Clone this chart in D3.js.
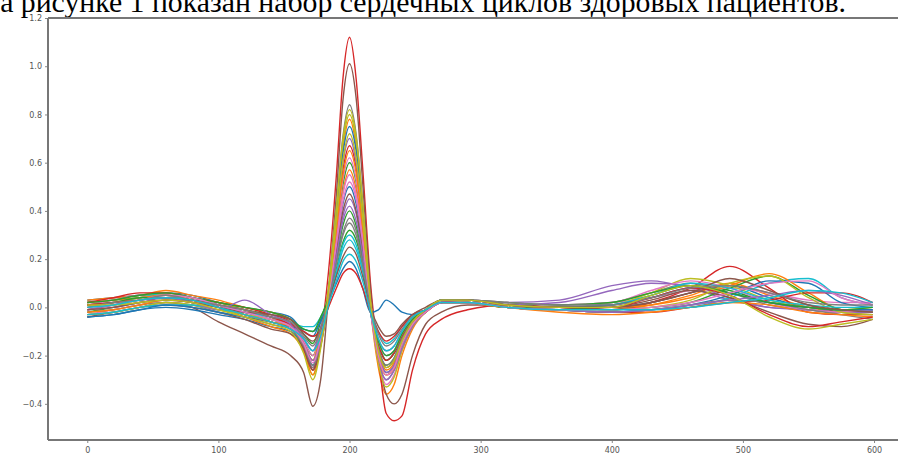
<!DOCTYPE html>
<html><head><meta charset="utf-8">
<script src="https://cdn.jsdelivr.net/npm/d3@7"></script>
<style>html,body{margin:0;padding:0;background:#fff;overflow:hidden}</style>
</head><body>
<svg id="chart" width="898" height="458"></svg>
<script>
const caption = "На рисунке 1 показан набор сердечных циклов здоровых пациентов.";
const xKnots = [0,20,40,60,80,100,120,140,155,165,172,178,184,190,195,200,205,210,216,222,228,234,240,248,258,270,290,320,360,400,430,460,490,520,550,575,599];
const xTicks = [0,100,200,300,400,500,600];
const yTicks = [-0.4,-0.2,0.0,0.2,0.4,0.6,0.8,1.0,1.2];
const palette = ["#1f77b4","#ff7f0e","#2ca02c","#d62728","#9467bd","#8c564b","#e377c2","#7f7f7f","#bcbd22","#17becf"];

const beat01 = [-0.01,0.01,0.03,0.04,0.03,0.0,-0.03,-0.06,-0.09, -0.15,-0.26,-0.12,0.15,0.55,0.95,1.12,0.95,0.58,0.10,-0.20,-0.44,-0.47,-0.45,-0.26,-0.11,-0.05, -0.01,0.01,0.0,-0.01,0.02,0.08,0.17,0.08,-0.02,-0.03,-0.03];
const beat02 = [-0.03,-0.02,0.0,0.02,0.0,-0.06,-0.11,-0.16,-0.2, -0.27,-0.41,-0.30,0.05,0.47,0.86,1.01,0.87,0.52,0.07,-0.2,-0.36,-0.40,-0.36,-0.2,-0.07,-0.02, 0.01,0.01,0.0,-0.01,0.02,0.06,0.09,0.06,0.01,-0.02,-0.03];
const beat03 = [0.02,0.03,0.05,0.05,0.03,0.01,-0.02,-0.04,-0.07, -0.16,-0.25,-0.12,0.08,0.42,0.71,0.84,0.72,0.44,0.03,-0.21,-0.30,-0.26,-0.17,-0.08,-0.02,0.03, 0.03,0.01,0.0,0.02,0.06,0.10,0.06,0.01,-0.01,-0.02,-0.02];
const beat04 = [-0.03,-0.02,0.0,0.02,0.01,-0.01,-0.03,-0.05,-0.08, -0.15,-0.22,-0.10,0.08,0.41,0.70,0.82,0.71,0.43,0.03,-0.20,-0.28,-0.25,-0.15,-0.07,-0.02,0.03, 0.02,0.0,-0.01,-0.01,0.0,0.03,0.10,0.13,0.04,-0.02,-0.03];
const beat05 = [0.0,0.02,0.04,0.06,0.04,0.02,-0.01,-0.04,-0.08, -0.18,-0.28,-0.15,0.07,0.40,0.68,0.80,0.69,0.42,0.01,-0.23,-0.33,-0.29,-0.18,-0.08,-0.02,0.02, 0.03,0.01,0.0,0.01,0.06,0.12,0.09,0.03,0.0,-0.01,0.0];
const beat06 = [0.03,0.04,0.05,0.07,0.05,0.03,0.0,-0.02,-0.05, -0.14,-0.20,-0.09,0.07,0.39,0.66,0.78,0.67,0.41,0.0,-0.25,-0.36,-0.32,-0.20,-0.09,-0.02,0.02, 0.02,0.0,0.0,-0.01,0.01,0.05,0.10,0.05,0.0,-0.02,-0.02];
const beat07 = [-0.04,-0.03,-0.01,0.0,-0.01,-0.03,-0.05,-0.08,-0.10, -0.16,-0.24,-0.12,0.07,0.38,0.64,0.75,0.65,0.39,0.02,-0.19,-0.27,-0.24,-0.15,-0.07,-0.02,0.03, 0.02,0.0,-0.01,-0.02,-0.01,0.01,0.05,0.11,0.10,0.02,0.0];
const beat08 = [0.01,0.01,0.02,0.03,0.02,-0.01,-0.04,-0.07,-0.10, -0.19,-0.30,-0.17,0.06,0.36,0.61,0.72,0.62,0.37,0.02,-0.18,-0.25,-0.22,-0.14,-0.06,-0.01,0.03, 0.03,0.01,0.0,0.0,0.05,0.09,0.05,-0.04,-0.09,-0.07,-0.05];
const beat09 = [-0.01,0.0,0.02,0.04,0.03,0.0,-0.02,-0.05,-0.07, -0.13,-0.18,-0.08,0.07,0.35,0.60,0.70,0.60,0.36,0.01,-0.21,-0.30,-0.26,-0.17,-0.08,-0.02,0.02, 0.03,0.01,0.02,0.07,0.10,0.09,0.04,0.0,-0.01,-0.02,-0.02];
const beat10 = [0.02,0.04,0.06,0.06,0.04,0.02,0.0,-0.03,-0.06, -0.17,-0.26,-0.14,0.05,0.34,0.57,0.67,0.58,0.35,0.03,-0.15,-0.22,-0.19,-0.12,-0.05,-0.01,0.03, 0.02,0.0,-0.01,-0.02,-0.02,0.0,0.02,0.03,0.06,0.06,0.02];
const beat11 = [-0.02,-0.01,0.01,0.03,0.02,0.0,-0.03,-0.06,-0.08, -0.15,-0.22,-0.11,0.06,0.33,0.55,0.65,0.56,0.34,0.01,-0.20,-0.28,-0.25,-0.15,-0.07,-0.02,0.02, 0.02,0.0,-0.02,-0.03,-0.02,0.0,0.02,0.01,-0.02,-0.03,-0.04];
const beat12 = [0.01,0.03,0.05,0.05,0.03,0.0,-0.03,-0.05,-0.07, -0.16,-0.25,-0.14,0.05,0.31,0.53,0.62,0.53,0.32,-0.01,-0.22,-0.32,-0.28,-0.18,-0.08,-0.02,0.02, 0.03,0.02,0.01,0.02,0.04,0.07,0.08,0.06,0.03,0.02,0.02];
const beat13 = [-0.02,0.0,0.02,0.03,0.03,0.01,-0.01,-0.03,-0.05, -0.11,-0.15,-0.06,0.06,0.30,0.51,0.60,0.52,0.31,0.01,-0.17,-0.24,-0.21,-0.13,-0.06,-0.01,0.03, 0.03,0.01,0.0,0.01,0.05,0.09,0.07,0.02,0.0,-0.01,-0.01];
const beat14 = [0.02,0.03,0.04,0.05,0.03,0.0,-0.04,-0.08,-0.11, -0.18,-0.28,-0.16,0.04,0.29,0.48,0.57,0.49,0.30,0.0,-0.18,-0.26,-0.23,-0.14,-0.06,-0.02,0.02, 0.02,0.0,0.0,0.0,0.01,0.04,0.09,0.14,0.06,-0.01,-0.02];
const beat15 = [-0.03,-0.01,0.01,0.03,0.02,0.0,-0.02,-0.04,-0.07, -0.14,-0.20,-0.11,0.05,0.28,0.47,0.55,0.47,0.29,0.02,-0.14,-0.20,-0.18,-0.11,-0.05,-0.01,0.03, 0.03,0.02,0.01,0.02,0.07,0.11,0.08,0.02,-0.01,-0.02,-0.01];
const beat16 = [0.0,0.01,0.03,0.05,0.04,0.01,-0.02,-0.05,-0.08, -0.15,-0.23,-0.13,0.04,0.26,0.44,0.52,0.45,0.27,-0.01,-0.20,-0.28,-0.25,-0.15,-0.07,-0.02,0.02, 0.02,0.0,-0.01,-0.01,0.0,0.02,0.06,0.10,0.11,0.04,0.01];
const beat17 = [0.03,0.04,0.05,0.06,0.05,0.02,0.0,-0.02,-0.04, -0.10,-0.12,-0.05,0.05,0.25,0.43,0.50,0.43,0.26,0.0,-0.15,-0.22,-0.19,-0.12,-0.05,-0.01,0.03, 0.03,0.01,0.0,0.0,0.02,0.06,0.09,0.04,0.0,-0.01,-0.01];
const beat18 = [-0.04,-0.02,0.0,0.01,0.0,-0.02,-0.05,-0.09,-0.11, -0.17,-0.26,-0.16,0.03,0.24,0.40,0.47,0.40,0.24,-0.01,-0.17,-0.25,-0.22,-0.14,-0.06,-0.02,0.02, 0.02,0.0,-0.01,0.0,0.03,0.07,0.04,-0.02,-0.07,-0.08,-0.05];
const beat19 = [0.01,0.02,0.04,0.05,0.04,0.01,-0.02,-0.04,-0.07, -0.13,-0.18,-0.10,0.04,0.23,0.38,0.45,0.39,0.23,0.01,-0.13,-0.18,-0.16,-0.10,-0.04,-0.01,0.03, 0.03,0.02,0.03,0.09,0.11,0.08,0.03,0.0,-0.01,-0.02,-0.01];
const beat20 = [-0.01,0.01,0.03,0.04,0.02,-0.01,0.03,-0.03,-0.07, -0.15,-0.22,-0.13,0.03,0.21,0.36,0.42,0.36,0.22,-0.02,-0.19,-0.27,-0.24,-0.15,-0.07,-0.02,0.02, 0.02,0.0,-0.01,-0.02,-0.01,0.01,0.03,0.05,0.07,0.05,0.01];
const beat21 = [0.02,0.03,0.05,0.06,0.04,0.02,0.0,-0.02,-0.05, -0.09,-0.10,-0.04,0.04,0.20,0.34,0.40,0.34,0.21,0.0,-0.14,-0.20,-0.18,-0.11,-0.05,-0.01,0.03, 0.03,0.02,0.01,0.02,0.06,0.09,0.06,0.02,0.0,-0.01,0.0];
const beat22 = [-0.02,-0.01,0.01,0.02,0.01,-0.02,-0.04,-0.07,-0.09, -0.16,-0.24,-0.15,0.02,0.19,0.31,0.37,0.32,0.19,-0.02,-0.17,-0.24,-0.21,-0.13,-0.06,-0.01,0.02, 0.02,0.0,-0.01,-0.02,-0.01,0.01,0.03,0.02,-0.01,-0.03,-0.05];
const beat23 = [0.0,0.02,0.03,0.05,0.03,0.01,-0.01,-0.04,-0.06, -0.12,-0.16,-0.09,0.03,0.18,0.30,0.35,0.30,0.18,0.0,-0.11,-0.16,-0.14,-0.09,-0.04,-0.01,0.03, 0.03,0.02,0.01,0.01,0.04,0.08,0.09,0.06,0.02,0.01,0.01];
const beat24 = [0.01,0.02,0.04,0.04,0.02,0.0,-0.03,-0.06,-0.08, -0.14,-0.20,-0.12,0.02,0.16,0.27,0.32,0.28,0.17,-0.02,-0.15,-0.22,-0.19,-0.12,-0.05,-0.01,0.02, 0.02,0.0,0.0,-0.01,0.0,0.02,0.08,0.13,0.05,-0.01,-0.02];
const beat25 = [-0.03,-0.02,0.0,0.01,0.01,-0.01,-0.02,-0.04,-0.06, -0.08,-0.08,-0.04,0.03,0.15,0.26,0.30,0.26,0.16,0.0,-0.10,-0.15,-0.13,-0.08,-0.04,-0.01,0.03, 0.03,0.01,0.0,0.01,0.05,0.10,0.08,0.03,0.01,0.0,0.0];
const beat26 = [0.02,0.03,0.04,0.06,0.04,0.01,-0.02,-0.05,-0.08, -0.15,-0.22,-0.14,0.01,0.14,0.24,0.28,0.24,0.15,-0.02,-0.14,-0.20,-0.18,-0.11,-0.05,-0.01,0.02, 0.02,0.0,-0.01,-0.02,-0.01,0.0,0.04,0.10,0.12,0.04,0.01];
const beat27 = [-0.01,0.0,0.02,0.03,0.02,0.0,-0.02,-0.03,-0.05, -0.11,-0.14,-0.09,0.02,0.13,0.21,0.25,0.22,0.13,0.0,-0.08,-0.12,-0.11,-0.07,-0.03,0.0,0.03, 0.03,0.01,0.0,0.0,0.02,0.06,0.12,0.07,0.01,-0.01,-0.02];
const beat28 = [0.0,0.01,0.03,0.04,0.03,0.0,-0.03,-0.06,-0.09, -0.13,-0.18,-0.12,0.01,0.11,0.19,0.22,0.19,0.11,-0.02,-0.13,-0.18,-0.16,-0.10,-0.04,-0.01,0.02, 0.02,0.0,-0.01,-0.01,-0.01,0.0,0.02,0.04,0.07,0.06,0.02];
const beat29 = [-0.04,-0.03,-0.01,0.01,0.0,-0.02,-0.04,-0.06,-0.08, -0.09,-0.10,-0.06,0.02,0.10,0.16,0.19,0.16,0.08,-0.02,-0.01,0.03,0.01,-0.02,-0.03,-0.01,0.02, 0.03,0.01,0.0,0.01,0.04,0.08,0.06,0.02,0.0,-0.01,-0.01];
const beat30 = [0.01,0.02,0.03,0.04,0.03,0.01,-0.01,-0.04,-0.07, -0.10,-0.12,-0.09,0.0,0.08,0.14,0.16,0.14,0.08,-0.02,-0.10,-0.14,-0.12,-0.08,-0.03,-0.01,0.02, 0.03,0.01,0.0,0.0,0.04,0.08,0.05,-0.03,-0.08,-0.06,-0.04];

// plotting order (colour follows matplotlib's default cycle by position)
const beats = [beat17,beat06,beat13,beat01,beat19,beat02,beat12,beat03,beat05,beat26,
               beat07,beat14,beat24,beat10,beat09,beat18,beat15,beat22,beat04,beat25,
               beat29,beat11,beat21,beat30,beat20,beat27,beat16,beat23,beat08,beat28];

const svg = d3.select("#chart");
const plot = {left: 48, right: 912, top: 18, bottom: 440};
const x = d3.scaleLinear().domain([-29.95, 628.95]).range([plot.left, plot.right]);
const y = d3.scaleLinear().domain([-0.55, 1.2]).range([plot.bottom, plot.top]);

// caption: scaled so that its visible part ("а рисунке ... пациентов.") spans x 0..846, first letter clipped by the left edge
const capFont = "'Liberation Serif','Times New Roman',serif";
const probe = svg.append("text").attr("font-family", capFont).attr("font-size", 30).text(caption.slice(1));
const fitSize = 30 * 846 / probe.node().getComputedTextLength();
probe.remove();
svg.append("text").text(caption)
  .attr("font-family", capFont)
  .attr("font-size", fitSize).attr("fill", "#000")
  .attr("text-anchor", "end").attr("x", 846).attr("y", 12);

// lines
const line = d3.line().x((d,i) => x(xKnots[i])).y(d => y(d)).curve(d3.curveMonotoneX);
svg.append("g").selectAll("path").data(beats).join("path")
  .attr("d", d => line(d))
  .attr("fill", "none")
  .attr("stroke", (d,i) => palette[i % 10])
  .attr("stroke-width", 1.4)
  .attr("stroke-linejoin", "round");

// axes
const fmt = v => (v < 0 ? "\u2212" : "") + Math.abs(v).toFixed(1);
const xAxis = d3.axisBottom(x).tickValues(xTicks).tickSize(3).tickPadding(4).tickFormat(d3.format("d"));
const yAxis = d3.axisLeft(y).tickValues(yTicks).tickSize(3).tickPadding(3).tickFormat(fmt);
const gx = svg.append("g").attr("transform", `translate(0,${plot.bottom})`).call(xAxis);
const gy = svg.append("g").attr("transform", `translate(${plot.left},0)`).call(yAxis);
[gx, gy].forEach(g => {
  g.select(".domain").remove();
  g.selectAll(".tick line").attr("stroke", "#888").attr("stroke-width", 1);
  g.selectAll(".tick text").attr("fill", "#555").attr("font-family", "'DejaVu Sans',sans-serif").attr("font-size", 8);
});
// spines
const sp = svg.append("g").attr("stroke", "#777").attr("stroke-width", 2).attr("fill", "none");
sp.append("line").attr("x1", plot.left).attr("x2", plot.left).attr("y1", plot.top).attr("y2", plot.bottom);
sp.append("line").attr("x1", plot.left).attr("x2", plot.right).attr("y1", plot.bottom).attr("y2", plot.bottom);
sp.append("line").attr("x1", plot.left).attr("x2", plot.right).attr("y1", plot.top).attr("y2", plot.top);
</script>
</body></html>
